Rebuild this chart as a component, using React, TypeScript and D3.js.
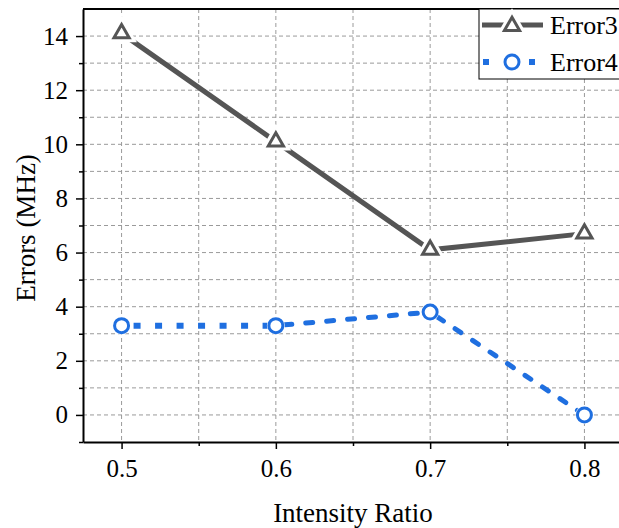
import React, { useEffect, useRef } from "react";
import * as d3 from "d3";

const ratios = [0.5, 0.6, 0.7, 0.8];
const error3 = [14.1, 10.1, 6.1, 6.7];
const error4 = [3.3, 3.3, 3.8, 0.0];
const xTicks = [0.5, 0.6, 0.7, 0.8];
const xMinorTicks = [0.55, 0.65, 0.75];
const yTicks = [0, 2, 4, 6, 8, 10, 12, 14];
const yMinorTicks = [-1, 1, 3, 5, 7, 9, 11, 13];
const seriesNames = ["Error3", "Error4"];

const FONT = '"Liberation Serif", serif';

const App = () => {
  const svgRef = useRef<SVGSVGElement>(null);

  useEffect(() => {
    drawChart();
  }, []);

  const drawChart = () => {
    const W = 619;
    const H = 528;
    const margin = { top: 9, right: -4, bottom: 86, left: 83 };
    const width = W - margin.left - margin.right;
    const height = H - margin.top - margin.bottom;
    const grey = "#555555";
    const blue = "#1f6fe0";

    const root = d3
      .select(svgRef.current)
      .attr("width", W)
      .attr("height", H)
      .style("font-family", FONT);
    root.selectAll("*").remove();

    const svg = root
      .append("g")
      .attr("transform", `translate(${margin.left},${margin.top})`);

    const x = d3.scaleLinear().domain([0.475, 0.825]).range([0, width]);
    const y = d3.scaleLinear().domain([-1, 15]).range([height, 0]);

    // grid
    const grid = svg.append("g").attr("stroke", "#9a9a9a").attr("stroke-width", 1).attr("stroke-dasharray", "4 3");
    grid
      .selectAll("line.v")
      .data([...xTicks, ...xMinorTicks])
      .enter()
      .append("line")
      .attr("x1", (d) => x(d))
      .attr("x2", (d) => x(d))
      .attr("y1", 0)
      .attr("y2", height);
    grid
      .selectAll("line.h")
      .data([...yTicks, ...yMinorTicks.filter((d) => d > -1)])
      .enter()
      .append("line")
      .attr("x1", 0)
      .attr("x2", width)
      .attr("y1", (d) => y(d))
      .attr("y2", (d) => y(d));

    // axes
    const xAxis = svg
      .append("g")
      .attr("transform", `translate(0,${height})`)
      .call(d3.axisBottom(x).tickValues(xTicks).tickSize(7).tickSizeOuter(0).tickPadding(10).tickFormat(d3.format(".1f")));
    svg
      .append("g")
      .attr("transform", `translate(0,${height})`)
      .call(d3.axisBottom(x).tickValues(xMinorTicks).tickSize(4).tickSizeOuter(0).tickFormat(() => ""))
      .select(".domain")
      .remove();
    const yAxis = svg
      .append("g")
      .call(d3.axisLeft(y).tickValues(yTicks).tickSize(7).tickSizeOuter(0).tickPadding(8));
    svg
      .append("g")
      .call(d3.axisLeft(y).tickValues(yMinorTicks).tickSize(4).tickSizeOuter(0).tickFormat(() => ""))
      .select(".domain")
      .remove();

    svg.selectAll(".domain").attr("stroke", "#000").attr("stroke-width", 2);
    svg.selectAll(".tick line").attr("stroke", "#000").attr("stroke-width", 1.5);
    [xAxis, yAxis].forEach((a) =>
      a
        .selectAll("text")
        .attr("fill", "#000")
        .style("font-family", FONT)
        .style("font-size", "25px")
    );

    // top border
    svg
      .append("line")
      .attr("x1", 0)
      .attr("x2", width)
      .attr("y1", 0)
      .attr("y2", 0)
      .attr("stroke", "#000")
      .attr("stroke-width", 2);

    // Error3 line
    const line = d3
      .line<number>()
      .x((d, i) => x(ratios[i]))
      .y((d) => y(d));

    svg
      .append("path")
      .datum(error3)
      .attr("d", line)
      .attr("fill", "none")
      .attr("stroke", grey)
      .attr("stroke-width", 5);

    // Error4 line, each segment its own dash style
    const seg = d3.pairs(d3.range(error4.length));
    svg
      .selectAll("path.e4")
      .data(seg)
      .enter()
      .append("path")
      .attr("d", ([a, b]) => `M${x(ratios[a])},${y(error4[a])}L${x(ratios[b])},${y(error4[b])}`)
      .attr("fill", "none")
      .attr("stroke", blue)
      .attr("stroke-width", (d, i) => (i === 0 ? 6 : 5))
      .attr("stroke-linecap", (d, i) => (i === 0 ? "butt" : "round"))
      .attr("stroke-dasharray", (d, i) => (i === 0 ? "7 14.5" : "7 14"))
      .attr("stroke-dashoffset", (d, i) => (i === 0 ? -12 : -9));

    const tri = d3.symbol().type(d3.symbolTriangle).size(100);

    // Error3 markers (white halo gives the gap)
    svg
      .selectAll("path.m3h")
      .data(error3)
      .enter()
      .append("path")
      .attr("d", tri)
      .attr("transform", (d, i) => `translate(${x(ratios[i])},${y(d)})`)
      .attr("fill", "#fff")
      .attr("stroke", "#fff")
      .attr("stroke-width", 9);
    svg
      .selectAll("path.m3")
      .data(error3)
      .enter()
      .append("path")
      .attr("d", tri)
      .attr("transform", (d, i) => `translate(${x(ratios[i])},${y(d)})`)
      .attr("fill", "#fff")
      .attr("stroke", grey)
      .attr("stroke-width", 3);

    // Error4 markers
    svg
      .selectAll("circle.h")
      .data(error4)
      .enter()
      .append("circle")
      .attr("cx", (d, i) => x(ratios[i]))
      .attr("cy", (d) => y(d))
      .attr("r", 9)
      .attr("fill", "#fff");
    svg
      .selectAll("circle.m4")
      .data(error4)
      .enter()
      .append("circle")
      .attr("cx", (d, i) => x(ratios[i]))
      .attr("cy", (d) => y(d))
      .attr("r", 7)
      .attr("fill", "#fff")
      .attr("stroke", blue)
      .attr("stroke-width", 3);

    // legend
    const lg = root.append("g").attr("transform", "translate(479,9)");
    lg.append("rect")
      .attr("x", 0)
      .attr("y", 0)
      .attr("width", 160)
      .attr("height", 70)
      .attr("fill", "#fff")
      .attr("stroke", "#000")
      .attr("stroke-width", 1);
    const rows = [16, 53];
    // Error3 sample
    lg.append("line")
      .attr("x1", 3)
      .attr("x2", 64)
      .attr("y1", rows[0])
      .attr("y2", rows[0])
      .attr("stroke", grey)
      .attr("stroke-width", 5);
    lg.append("path")
      .attr("d", tri)
      .attr("transform", `translate(33,${rows[0] + 1})`)
      .attr("fill", "#fff")
      .attr("stroke", "#fff")
      .attr("stroke-width", 9);
    lg.append("path")
      .attr("d", tri)
      .attr("transform", `translate(33,${rows[0] + 1})`)
      .attr("fill", "#fff")
      .attr("stroke", grey)
      .attr("stroke-width", 3);
    // Error4 sample
    lg.append("line")
      .attr("x1", 4)
      .attr("x2", 57)
      .attr("y1", rows[1])
      .attr("y2", rows[1])
      .attr("stroke", blue)
      .attr("stroke-width", 6)
      .attr("stroke-dasharray", "6 40");
    lg.append("circle")
      .attr("cx", 33)
      .attr("cy", rows[1])
      .attr("r", 9)
      .attr("fill", "#fff");
    lg.append("circle")
      .attr("cx", 33)
      .attr("cy", rows[1])
      .attr("r", 7)
      .attr("fill", "#fff")
      .attr("stroke", blue)
      .attr("stroke-width", 3);
    lg.selectAll("text")
      .data(seriesNames)
      .enter()
      .append("text")
      .attr("x", 71)
      .attr("y", (d, i) => rows[i] + 9)
      .style("font-size", "26px")
      .attr("fill", "#000")
      .text((d) => d);

    // X-axis label
    svg
      .append("text")
      .attr("x", x(0.65))
      .attr("y", height + 80)
      .attr("text-anchor", "middle")
      .style("font-size", "27px")
      .text("Intensity Ratio");

    // Y-axis label
    svg
      .append("text")
      .attr("transform", "rotate(-90)")
      .attr("x", -(228 - margin.top))
      .attr("y", -margin.left + 35)
      .attr("text-anchor", "middle")
      .style("font-size", "27px")
      .text("Errors (MHz)");
  };

  return (
    <svg
      ref={svgRef}
      style={{ position: "absolute", left: 0, top: 0, background: "#fff" }}
    ></svg>
  );
};

export default App;
